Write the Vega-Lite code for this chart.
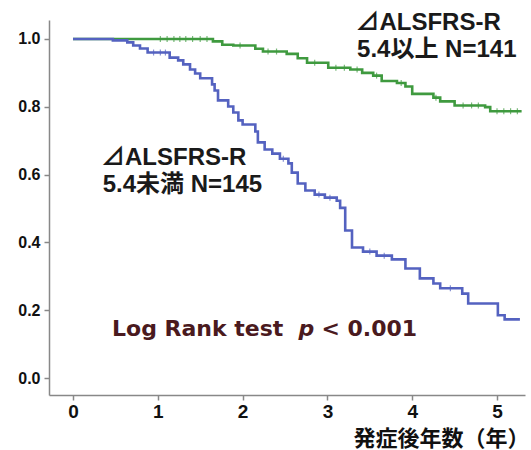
{
  "$schema": "https://vega.github.io/schema/vega-lite/v6.json",
  "width": 476,
  "height": 375,
  "autosize": {"type": "none"},
  "padding": {"left": 49, "top": 20, "right": 6, "bottom": 55},
  "background": "white",
  "config": {"view": {"stroke": null}},
  "datasets": {
    "curves": [
      {"group": "high", "t": 0, "v": 1.0},
      {"group": "high", "t": 1.65, "v": 0.993},
      {"group": "high", "t": 1.76, "v": 0.983},
      {"group": "high", "t": 1.89, "v": 0.981},
      {"group": "high", "t": 2.15, "v": 0.971},
      {"group": "high", "t": 2.24, "v": 0.963},
      {"group": "high", "t": 2.52, "v": 0.956},
      {"group": "high", "t": 2.65, "v": 0.943},
      {"group": "high", "t": 2.76, "v": 0.930},
      {"group": "high", "t": 3.01, "v": 0.915},
      {"group": "high", "t": 3.27, "v": 0.910},
      {"group": "high", "t": 3.41, "v": 0.900},
      {"group": "high", "t": 3.54, "v": 0.892},
      {"group": "high", "t": 3.64, "v": 0.876},
      {"group": "high", "t": 3.82, "v": 0.870},
      {"group": "high", "t": 3.92, "v": 0.860},
      {"group": "high", "t": 4.0, "v": 0.838},
      {"group": "high", "t": 4.25, "v": 0.827},
      {"group": "high", "t": 4.33, "v": 0.816},
      {"group": "high", "t": 4.5, "v": 0.804},
      {"group": "high", "t": 4.86, "v": 0.799},
      {"group": "high", "t": 4.92, "v": 0.787},
      {"group": "high", "t": 5.29, "v": 0.787},
      {"group": "low", "t": 0, "v": 1.0},
      {"group": "low", "t": 0.47, "v": 0.996},
      {"group": "low", "t": 0.64, "v": 0.99},
      {"group": "low", "t": 0.71, "v": 0.981},
      {"group": "low", "t": 0.79, "v": 0.972},
      {"group": "low", "t": 0.88, "v": 0.96},
      {"group": "low", "t": 1.14, "v": 0.945},
      {"group": "low", "t": 1.24, "v": 0.937},
      {"group": "low", "t": 1.3, "v": 0.925},
      {"group": "low", "t": 1.38, "v": 0.91},
      {"group": "low", "t": 1.44, "v": 0.898},
      {"group": "low", "t": 1.5, "v": 0.884},
      {"group": "low", "t": 1.64, "v": 0.866},
      {"group": "low", "t": 1.67, "v": 0.848},
      {"group": "low", "t": 1.71, "v": 0.819},
      {"group": "low", "t": 1.83, "v": 0.801},
      {"group": "low", "t": 1.89, "v": 0.783},
      {"group": "low", "t": 1.95, "v": 0.76},
      {"group": "low", "t": 2.0, "v": 0.748},
      {"group": "low", "t": 2.15, "v": 0.727},
      {"group": "low", "t": 2.18, "v": 0.695},
      {"group": "low", "t": 2.26, "v": 0.674},
      {"group": "low", "t": 2.35, "v": 0.662},
      {"group": "low", "t": 2.44, "v": 0.647},
      {"group": "low", "t": 2.54, "v": 0.633},
      {"group": "low", "t": 2.58, "v": 0.606},
      {"group": "low", "t": 2.65, "v": 0.574},
      {"group": "low", "t": 2.74, "v": 0.553},
      {"group": "low", "t": 2.85, "v": 0.541},
      {"group": "low", "t": 2.97, "v": 0.532},
      {"group": "low", "t": 3.11, "v": 0.523},
      {"group": "low", "t": 3.15, "v": 0.502},
      {"group": "low", "t": 3.21, "v": 0.435},
      {"group": "low", "t": 3.29, "v": 0.385},
      {"group": "low", "t": 3.42, "v": 0.373},
      {"group": "low", "t": 3.58, "v": 0.361},
      {"group": "low", "t": 3.76, "v": 0.35},
      {"group": "low", "t": 3.92, "v": 0.323},
      {"group": "low", "t": 4.09, "v": 0.294},
      {"group": "low", "t": 4.25, "v": 0.279},
      {"group": "low", "t": 4.33, "v": 0.265},
      {"group": "low", "t": 4.59, "v": 0.249},
      {"group": "low", "t": 4.66, "v": 0.22},
      {"group": "low", "t": 5.01, "v": 0.185},
      {"group": "low", "t": 5.09, "v": 0.173},
      {"group": "low", "t": 5.27, "v": 0.173}
    ],
    "censor": [
      {"group": "high", "t": 1.03, "v": 1.0},
      {"group": "high", "t": 1.11, "v": 1.0},
      {"group": "high", "t": 1.19, "v": 1.0},
      {"group": "high", "t": 1.26, "v": 1.0},
      {"group": "high", "t": 1.33, "v": 1.0},
      {"group": "high", "t": 1.41, "v": 1.0},
      {"group": "high", "t": 1.5, "v": 1.0},
      {"group": "high", "t": 1.58, "v": 1.0},
      {"group": "high", "t": 1.97, "v": 0.981},
      {"group": "high", "t": 2.3, "v": 0.963},
      {"group": "high", "t": 2.4, "v": 0.963},
      {"group": "high", "t": 2.85, "v": 0.93},
      {"group": "high", "t": 3.1, "v": 0.915},
      {"group": "high", "t": 3.2, "v": 0.915},
      {"group": "high", "t": 3.35, "v": 0.91},
      {"group": "high", "t": 3.58, "v": 0.892},
      {"group": "high", "t": 3.87, "v": 0.87},
      {"group": "high", "t": 4.28, "v": 0.827},
      {"group": "high", "t": 4.6, "v": 0.804},
      {"group": "high", "t": 4.7, "v": 0.804},
      {"group": "high", "t": 4.78, "v": 0.804},
      {"group": "high", "t": 5.0, "v": 0.787},
      {"group": "high", "t": 5.08, "v": 0.787},
      {"group": "high", "t": 5.16, "v": 0.787},
      {"group": "high", "t": 5.24, "v": 0.787},
      {"group": "low", "t": 0.95, "v": 0.96},
      {"group": "low", "t": 1.03, "v": 0.96},
      {"group": "low", "t": 1.09, "v": 0.96},
      {"group": "low", "t": 2.48, "v": 0.647},
      {"group": "low", "t": 2.9, "v": 0.541},
      {"group": "low", "t": 3.03, "v": 0.532},
      {"group": "low", "t": 3.5, "v": 0.373},
      {"group": "low", "t": 3.67, "v": 0.361},
      {"group": "low", "t": 4.45, "v": 0.265}
    ],
    "labels": [
      {"label": "⊿ALSFRS-R", "t": 3.33, "v": 1.046},
      {"label": "5.4以上  N=141", "t": 3.35, "v": 0.968},
      {"label": "⊿ALSFRS-R", "t": 0.33, "v": 0.649},
      {"label": "5.4未満  N=145", "t": 0.35, "v": 0.569}
    ],
    "logrank": [{"label": "Log Rank test", "t": 0.46, "v": 0.145}],
    "pval": [{"label": "p", "t": 2.66, "v": 0.145}],
    "pnum": [{"label": "< 0.001", "t": 2.93, "v": 0.145}]
  },
  "layer": [
    {
      "data": {"name": "curves"},
      "mark": {"type": "line", "interpolate": "step-after", "strokeWidth": 2.6},
      "encoding": {
        "x": {
          "field": "t", "type": "quantitative",
          "scale": {"domain": [-0.283, 5.33], "nice": false, "zero": false},
          "axis": {
            "values": [0, 1, 2, 3, 4, 5], "format": "d", "grid": false,
            "domainColor": "#888888", "domainWidth": 1.5,
            "tickColor": "#888888", "tickSize": 5, "tickWidth": 1.5,
            "labelFont": "Liberation Sans", "labelFontWeight": "bold", "labelFontSize": 19,
            "labelColor": "#111111", "labelPadding": 2,
            "title": "発症後年数（年）",
            "titleFont": "Noto Sans CJK JP", "titleFontWeight": "bold", "titleFontSize": 22,
            "titleColor": "#111111", "titleAnchor": "end", "titleAlign": "right",
            "titleBaseline": "middle", "titleX": 480, "titleY": 43
          }
        },
        "y": {
          "field": "v", "type": "quantitative",
          "scale": {"domain": [-0.05, 1.056], "nice": false, "zero": false},
          "axis": {
            "values": [0, 0.2, 0.4, 0.6, 0.8, 1.0], "format": ".1f", "grid": false,
            "domainColor": "#888888", "domainWidth": 1.5,
            "tickColor": "#888888", "tickSize": 5, "tickWidth": 1.5,
            "labelFont": "Liberation Sans", "labelFontWeight": "bold", "labelFontSize": 16,
            "labelColor": "#111111", "labelPadding": 4, "title": null
          }
        },
        "color": {
          "field": "group", "type": "nominal",
          "scale": {"domain": ["high", "low"], "range": ["#3f9a3f", "#5462c0"]},
          "legend": null
        }
      }
    },
    {
      "data": {"name": "censor"},
      "mark": {"type": "tick", "orient": "vertical", "size": 6, "thickness": 1.2},
      "encoding": {
        "x": {"field": "t", "type": "quantitative"},
        "y": {"field": "v", "type": "quantitative"},
        "color": {"field": "group", "type": "nominal", "legend": null}
      }
    },
    {
      "data": {"name": "labels"},
      "mark": {"type": "text", "align": "left", "baseline": "middle", "font": "Liberation Sans, Noto Sans CJK JP", "fontWeight": "bold", "fontSize": 24, "color": "#1a1a1a"},
      "encoding": {
        "x": {"field": "t", "type": "quantitative"},
        "y": {"field": "v", "type": "quantitative"},
        "text": {"field": "label"}
      }
    },
    {
      "data": {"name": "logrank"},
      "mark": {"type": "text", "align": "left", "baseline": "middle", "font": "DejaVu Sans", "fontWeight": "bold", "fontSize": 22, "color": "#4a1a1e"},
      "encoding": {
        "x": {"field": "t", "type": "quantitative"},
        "y": {"field": "v", "type": "quantitative"},
        "text": {"field": "label"}
      }
    },
    {
      "data": {"name": "pval"},
      "mark": {"type": "text", "align": "left", "baseline": "middle", "font": "DejaVu Sans", "fontWeight": "bold", "fontStyle": "italic", "fontSize": 22, "color": "#4a1a1e"},
      "encoding": {
        "x": {"field": "t", "type": "quantitative"},
        "y": {"field": "v", "type": "quantitative"},
        "text": {"field": "label"}
      }
    },
    {
      "data": {"name": "pnum"},
      "mark": {"type": "text", "align": "left", "baseline": "middle", "font": "DejaVu Sans", "fontWeight": "bold", "fontSize": 22, "color": "#4a1a1e"},
      "encoding": {
        "x": {"field": "t", "type": "quantitative"},
        "y": {"field": "v", "type": "quantitative"},
        "text": {"field": "label"}
      }
    }
  ]
}
